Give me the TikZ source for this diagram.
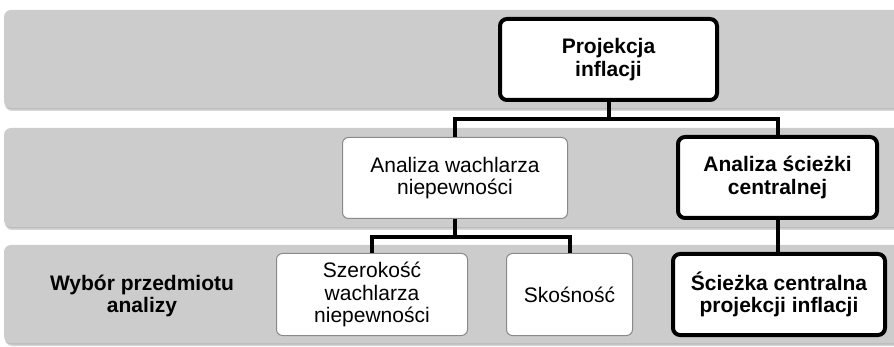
\documentclass[tikz,border=0pt]{standalone}
\usepackage{fontspec}
\setmainfont{Liberation Sans}
\definecolor{bandgray}{HTML}{CCCCCC}
\definecolor{shadowgray}{HTML}{8C8C8C}
\definecolor{thinborder}{HTML}{8A8A8A}
\tikzset{
  band/.style={fill=bandgray, draw=none, rounded corners=7pt},
  bandshadow/.style={fill=shadowgray, draw=none, rounded corners=7pt, opacity=0.35},
  thinbox/.style={draw=thinborder, line width=1pt, fill=white, rounded corners=6pt,
    align=center, inner sep=0pt, font=\fontsize{21}{22.5}\selectfont},
  thickbox/.style={draw=black, line width=4pt, fill=white, rounded corners=7pt,
    align=center, inner sep=0pt, font=\fontsize{21}{22.5}\selectfont\bfseries},
  conn/.style={draw=black, line width=4pt},
  lbl/.style={align=center, font=\fontsize{21}{22.5}\selectfont\bfseries}
}
\begin{document}
\begin{tikzpicture}[x=1pt,y=-1pt]
\useasboundingbox (0,0) rectangle (894,347);
\clip (0,0) rectangle (894,347);
\fill[white] (0,0) rectangle (894,347);
% bands with soft shadows
\foreach \t/\b in {10/108, 128/227, 245/343}{
  \fill[bandshadow] (5,\t+3) rectangle (910,\b+3);
  \fill[bandshadow] (5,\t+1.5) rectangle (910,\b+1.5);
  \fill[band] (4,\t) rectangle (910,\b);
}
% nodes
\node[thickbox, minimum width=217pt, minimum height=81pt] (top) at (608.5,59.5) {Projekcja\\inflacji};
\node[thinbox, minimum width=225pt, minimum height=81pt] (aw) at (455,178) {Analiza wachlarza\\niepewności};
\node[thickbox, minimum width=199pt, minimum height=81pt] (as) at (777.5,177.5) {Analiza ścieżki\\centralnej};
\node[thinbox, minimum width=191pt, minimum height=82pt] (sz) at (372,294.5) {Szerokość\\wachlarza\\niepewności};
\node[thinbox, minimum width=126pt, minimum height=82pt] (sk) at (569.5,294.5) {Skośność};
\node[thickbox, minimum width=212pt, minimum height=81pt] (sc) at (779,294.5) {Ścieżka centralna\\projekcji inflacji};
\node[lbl] (wyb) at (142,296) {Wybór przedmiotu\\analizy};
% connectors
\draw[conn] (top.south) -- ++(0,17) coordinate (j1) -| (aw.north);
\draw[conn] (j1) -| (as.north);
\draw[conn] (aw.south) -- ++(0,18) coordinate (j2) -| (sz.north);
\draw[conn] (j2) -| (sk.north);
\draw[conn] (as.south) -- (as.south |- sc.north);
\end{tikzpicture}
\end{document}
